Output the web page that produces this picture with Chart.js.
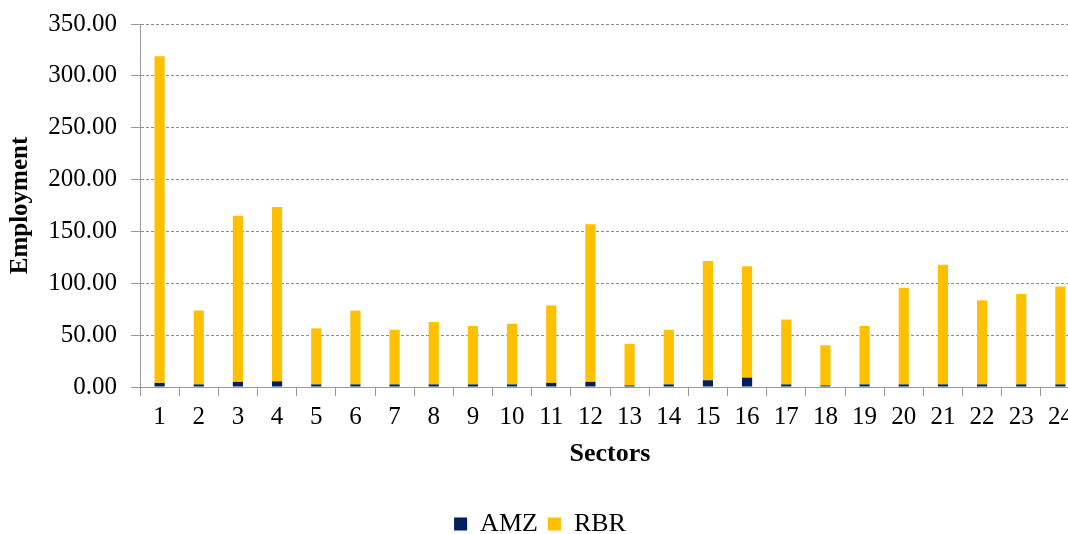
<!DOCTYPE html>
<html>
<head>
<meta charset="utf-8">
<title>Employment by sector</title>
<script src="https://cdn.jsdelivr.net/npm/chart.js@4/dist/chart.umd.min.js"></script>
<style>
  html, body { margin: 0; padding: 0; background: #fff; overflow: hidden; }
  #wrap { width: 1068px; height: 534px; overflow: hidden; }
</style>
</head>
<body>
<div id="wrap"><canvas id="sectorChart" width="1090" height="547"></canvas></div>
<script>
// sectors 1..24
const sectors = ["1","2","3","4","5","6","7","8","9","10","11","12",
                 "13","14","15","16","17","18","19","20","21","22","23","24"];

// values (stacked: AMZ at bottom, RBR on top)
const amzValues = [4, 2.5, 5, 5.5, 2.5, 2.5, 2.5, 2.5, 2.5, 2.5, 4, 5,
                   1.5, 2.5, 6.5, 9, 2.5, 1.5, 2.5, 2.5, 2.5, 2.5, 2.5, 2.5];
const rbrValues = [315, 71.2, 160, 168.1, 54, 71.2, 52.7, 60.1, 56.3, 58.5, 74.6, 152,
                   40.1, 52.7, 114.9, 107.5, 62.5, 38.8, 56.3, 93.2, 115.3, 81, 87.1, 94.5];

const yTicks = [0, 50, 100, 150, 200, 250, 300, 350];

const serif = "'Liberation Serif', 'Times New Roman', serif";

const ctx = document.getElementById("sectorChart").getContext("2d");

new Chart(ctx, {
    type: "bar",
    data: {
        labels: sectors,
        datasets: [
            {
                label: "AMZ",
                data: amzValues,
                backgroundColor: "#002060",
                barPercentage: 1,
                categoryPercentage: 0.26,
            },
            {
                label: "RBR",
                data: rbrValues,
                backgroundColor: "#FFC000",
                barPercentage: 1,
                categoryPercentage: 0.26,
            },
        ],
    },
    options: {
        responsive: false,
        animation: false,
        devicePixelRatio: 1,
        layout: {
            padding: { top: 24, right: 10, left: 0, bottom: 0 },
        },
        plugins: {
            tooltip: { enabled: false },
            legend: {
                position: "bottom",
                labels: {
                    color: "#000",
                    font: { family: serif, size: 26 },
                    boxWidth: 13,
                    boxHeight: 13,
                    padding: 10,
                },
            },
        },
        scales: {
            x: {
                stacked: true,
                offset: true,
                grid: {
                    offset: true,
                    drawOnChartArea: false,
                    color: "#9a9a9a",
                    tickLength: 9,
                },
                border: { color: "#9a9a9a", width: 1 },
                ticks: {
                    color: "#000",
                    font: { family: serif, size: 25 },
                    maxRotation: 0,
                    autoSkip: false,
                    padding: 6,
                },
                title: {
                    display: true,
                    text: "Sectors",
                    color: "#000",
                    font: { family: serif, size: 26, weight: "bold" },
                    padding: { top: 4, bottom: 31 },
                },
                afterFit: (scale) => { scale.height = 114; },
            },
            y: {
                stacked: true,
                min: 0,
                max: 350,
                afterBuildTicks: (scale) => {
                    scale.ticks = yTicks.map((v) => ({ value: v }));
                },
                grid: {
                    color: "#8c8c8c",
                    tickLength: 9,
                    tickColor: "#9a9a9a",
                    tickBorderDash: [],
                },
                border: { color: "#9a9a9a", width: 1, dash: [3, 2] },
                ticks: {
                    color: "#000",
                    font: { family: serif, size: 25 },
                    padding: 14,
                    callback: (v) => Number(v).toFixed(2),
                },
                title: {
                    display: true,
                    text: "Employment",
                    color: "#000",
                    font: { family: serif, size: 25, weight: "bold" },
                    padding: { top: 6, bottom: 0 },
                },
                afterFit: (scale) => {
                    scale.width = 140;
                    scale.paddingTop = 0;
                    scale.paddingBottom = 0;
                },
            },
        },
    },
});
</script>
</body>
</html>
